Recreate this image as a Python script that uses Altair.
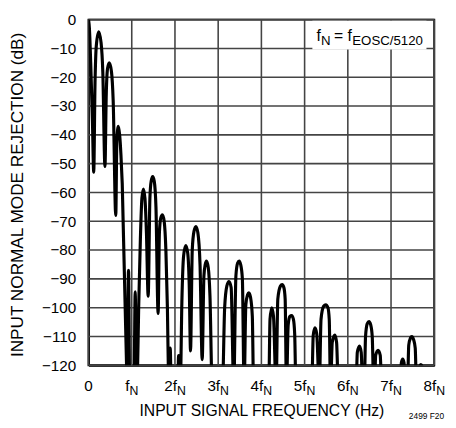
import altair as alt
import pandas as pd

# ---- data ----
# frequency in multiples of fN, rejection in dB (values below -120 are off-scale)
freq_fn = [
    0.00, 0.02, 0.05, 0.09, 0.12,
    0.15, 0.18, 0.235, 0.29, 0.33, 0.38,
    0.41, 0.44, 0.48, 0.53, 0.57, 0.63,
    0.655, 0.69, 0.72, 0.75, 0.78, 0.88, 0.895,
    0.925, 0.955, 1.00,
    1.05, 1.08, 1.11,
    1.125, 1.16, 1.20, 1.235, 1.27, 1.305, 1.34, 1.38,
    1.42, 1.45, 1.485, 1.52, 1.56, 1.61,
    1.64, 1.67, 1.71, 1.75, 1.79, 1.825, 1.855,
    1.865, 1.89, 1.915, 1.98,
    2.06, 2.085, 2.11,
    2.125, 2.16, 2.20, 2.25, 2.295, 2.33, 2.36,
    2.40, 2.44, 2.485, 2.53, 2.58, 2.63,
    2.67, 2.70, 2.73, 2.77, 2.81, 2.86, 2.98,
    3.10, 3.15, 3.20, 3.25, 3.30, 3.36,
    3.41, 3.45, 3.485, 3.52, 3.56, 3.60,
    3.64, 3.68, 3.71, 3.75, 3.79, 3.82, 4.00,
    4.17, 4.20, 4.24, 4.28, 4.34,
    4.38, 4.44, 4.48, 4.52, 4.55, 4.58,
    4.62, 4.66, 4.70, 4.74, 4.77, 4.80, 5.00,
    5.165, 5.20, 5.24, 5.28, 5.34,
    5.38, 5.44, 5.49, 5.54, 5.57, 5.60,
    5.64, 5.70, 5.74, 5.78, 6.00,
    6.19, 6.22, 6.27, 6.31, 6.345,
    6.38, 6.41, 6.45, 6.49, 6.53, 6.565, 6.60,
    6.615, 6.645, 6.70, 6.75, 6.785, 7.00,
    7.21, 7.24, 7.27, 7.30, 7.33,
    7.38, 7.41, 7.45, 7.48, 7.52, 7.56, 7.59,
    7.62, 7.66, 7.69, 7.72, 7.76, 8.00,
]
rejection_db = [
    0, -3, -15, -35, -53,
    -22, -9, -4.2, -8, -18, -51,
    -26, -17, -15, -18, -28, -68,
    -42, -37, -40, -47, -57, -120, -132,
    -87, -132, -135,
    -132, -94.5, -132,
    -128, -100, -76, -62, -58.8, -62, -74, -96,
    -62, -56, -54.5, -56, -65, -102,
    -74, -69, -67.8, -70, -80, -100, -128,
    -130, -114, -130, -135,
    -130, -116.6, -130,
    -128, -98, -82, -78.4, -81, -92, -115,
    -80, -73.5, -71.8, -74, -85, -118,
    -89, -85, -83.8, -86, -96, -128, -135,
    -128, -100, -92.5, -90.9, -93, -128,
    -89, -84.5, -83.8, -85, -90, -128,
    -99, -95.5, -94.8, -96.5, -103, -128, -135,
    -128, -104, -100, -103, -128,
    -97, -92.5, -92, -93, -97, -128,
    -106, -103, -102.7, -104, -109, -128, -135,
    -128, -109.5, -107, -109, -128,
    -104, -99.5, -99, -100, -104, -128,
    -112, -109.5, -112, -128, -135,
    -128, -115.5, -113.3, -115.5, -128,
    -128, -110, -105.5, -104.8, -106, -110, -128,
    -128, -116.5, -114.8, -116.5, -128, -135,
    -128, -119, -117.8, -119, -128,
    -128, -113, -110.5, -110, -111, -114, -128,
    -128, -120.5, -119.7, -120.5, -128, -135,
]

x_tick_values = [0, 1, 2, 3, 4, 5, 6, 7, 8]
x_tick_main = ["0", "f", "2f", "3f", "4f", "5f", "6f", "7f", "8f"]
x_tick_sub = ["", "N", "N", "N", "N", "N", "N", "N", "N"]
y_tick_values = [-120, -110, -100, -90, -80, -70, -60, -50, -40, -30, -20, -10, 0]

note_main = ["f", "= f"]
note_main_f = [5.273, 5.682]
note_sub = ["N", "EOSC/5120"]
note_sub_f = [5.377, 6.103]

FONT = "Liberation Sans"
W, H = 352, 352

curve_df = pd.DataFrame({"f": freq_fn, "db": rejection_db})
ticks_df = pd.DataFrame({"k": x_tick_values, "main": x_tick_main, "sub": x_tick_sub})
vgrid_df = pd.DataFrame({"k": x_tick_values})
hgrid_df = pd.DataFrame({"v": y_tick_values})
note_main_df = pd.DataFrame({"f": note_main_f, "t": note_main, "db": [-7.5] * 2})
note_sub_df = pd.DataFrame({"f": note_sub_f, "t": note_sub, "db": [-8.9] * 2})
box_df = pd.DataFrame({"f1": [5.18], "f2": [7.82], "d1": [-0.4], "d2": [-10.4]})

x_scale = alt.Scale(domain=[0, 8], nice=False, zero=False)
y_scale = alt.Scale(domain=[-120, 0], nice=False, zero=False)

x_axis = alt.Axis(
    values=x_tick_values, labels=False, ticks=False, grid=False,
    title="INPUT SIGNAL FREQUENCY (Hz)", titleX=176, titleY=51,
    titleAlign="center", titleBaseline="alphabetic")
y_axis = alt.Axis(
    values=y_tick_values, ticks=False, grid=False,
    labelExpr="datum.value == 0 ? '0' : '\u2212' + abs(datum.value)",
    labelPadding=13,
    title="INPUT NORMAL MODE REJECTION (dB)", titleX=-72, titleY=178,
    titleAngle=270, titleAlign="center", titleBaseline="middle",
    titleFontSize=17.5)

GRID = "#444444"
vgrid = alt.Chart(vgrid_df).mark_rule(color=GRID, strokeWidth=1.6).encode(
    x=alt.X("k:Q", scale=x_scale, axis=x_axis),
)
hgrid = alt.Chart(hgrid_df).mark_rule(color=GRID, strokeWidth=1.6).encode(
    y=alt.Y("v:Q", scale=y_scale, axis=y_axis),
)

curve = alt.Chart(curve_df).mark_line(
    color="black", strokeWidth=3.2, interpolate="monotone", clip=True
).encode(
    x=alt.X("f:Q", scale=x_scale, axis=x_axis),
    y=alt.Y("db:Q", scale=y_scale, axis=y_axis),
)

box = alt.Chart(box_df).mark_rect(color="white").encode(
    x=alt.X("f1:Q", scale=x_scale, axis=x_axis), x2="f2:Q",
    y=alt.Y("d1:Q", scale=y_scale, axis=y_axis), y2="d2:Q",
)

note_a = alt.Chart(note_main_df).mark_text(
    align="left", baseline="alphabetic", font=FONT, fontSize=16, color="black"
).encode(
    x=alt.X("f:Q", scale=x_scale, axis=x_axis),
    y=alt.Y("db:Q", scale=y_scale, axis=y_axis),
    text="t:N",
)
note_b = alt.Chart(note_sub_df).mark_text(
    align="left", baseline="alphabetic", font=FONT, fontSize=13.5, color="black"
).encode(
    x=alt.X("f:Q", scale=x_scale, axis=x_axis),
    y=alt.Y("db:Q", scale=y_scale, axis=y_axis),
    text="t:N",
)

ticks_base = alt.Chart(ticks_df).transform_calculate(
    anchor="datum.k + (datum.sub == '' ? 4.3 : (length(datum.main) == 1 ? -2.35 : 1.95)) / 44"
)
tick_main = ticks_base.mark_text(
    align="right", baseline="alphabetic", font=FONT, fontSize=15.5, dy=26, color="black"
).encode(
    x=alt.X("anchor:Q", scale=x_scale, axis=x_axis),
    y=alt.value(H),
    text="main:N",
)
tick_sub = ticks_base.mark_text(
    align="left", baseline="alphabetic", font=FONT, fontSize=12.5, dy=30, color="black"
).encode(
    x=alt.X("anchor:Q", scale=x_scale, axis=x_axis),
    y=alt.value(H),
    text="sub:N",
)

fig_id = alt.Chart(pd.DataFrame({"t": ["2499 F20"]})).mark_text(
    align="right", baseline="alphabetic", font=FONT, fontSize=8.5, color="black"
).encode(x=alt.value(362), y=alt.value(407), text="t:N")

chart = alt.layer(
    vgrid, hgrid, curve, box, note_a, note_b, tick_main, tick_sub, fig_id
).properties(
    width=W, height=H,
    autosize=alt.AutoSizeParams(type="none"),
    padding={"left": 82, "top": 8, "right": 14, "bottom": 60},
).configure_view(
    stroke="black", strokeWidth=2
).configure_axis(
    domainColor="black", domainWidth=2,
    labelFont=FONT, labelFontSize=15.5, labelColor="black",
    titleFont=FONT, titleFontSize=16, titleFontWeight="normal", titleColor="black",
)

chart.save("out.html", embed_options={"renderer": "svg", "actions": False})
